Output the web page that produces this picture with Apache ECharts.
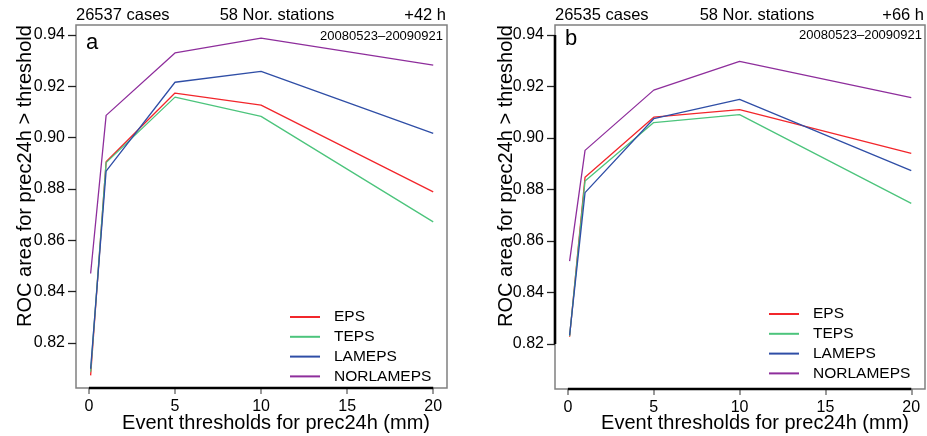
<!DOCTYPE html>
<html>
<head>
<meta charset="utf-8">
<script src="https://cdn.jsdelivr.net/npm/echarts@6/dist/echarts.min.js"></script>
<style>
html,body{margin:0;padding:0;background:#fff;}
#c{width:927px;height:436px;}
</style>
</head>
<body>
<div id="c"></div>
<script>
// ---- data ----
const thresholds = [0.1, 1, 5, 10, 20];
const xTickValues = [0, 5, 10, 15, 20];
const yTickValues = [0.82, 0.84, 0.86, 0.88, 0.90, 0.92, 0.94];
const seriesNames = ['EPS', 'TEPS', 'LAMEPS', 'NORLAMEPS'];
// panel a (+42 h)
const epsA = [0.8074, 0.8906, 0.9174, 0.9127, 0.8789];
const tepsA = [0.8088, 0.8903, 0.9158, 0.9083, 0.8672];
const lamepsA = [0.8100, 0.8870, 0.9216, 0.9258, 0.9017];
const norlamepsA = [0.8471, 0.9087, 0.9330, 0.9388, 0.9283];
// panel b (+66 h)
const epsB = [0.8228, 0.8848, 0.9081, 0.9110, 0.8940];
const tepsB = [0.8231, 0.8833, 0.9060, 0.9091, 0.8746];
const lamepsB = [0.8234, 0.8788, 0.9075, 0.9150, 0.8873];
const norlamepsB = [0.8522, 0.8952, 0.9186, 0.9298, 0.9157];
const panelA = {letter: 'a', cases: '26537 cases', stations: '58 Nor. stations', lead: '+42 h', period: '20080523\u201320090921'};
const panelB = {letter: 'b', cases: '26535 cases', stations: '58 Nor. stations', lead: '+66 h', period: '20080523\u201320090921'};
const yTitle = 'ROC area for prec24h > threshold';
const xTitle = 'Event thresholds for prec24h (mm)';

// ---- styles ----
const colors = {EPS: '#f2262b', TEPS: '#4cc47c', LAMEPS: '#2f4ea6', NORLAMEPS: '#8e2e9c'};
const FONT = '"Liberation Sans", Arial, Helvetica, sans-serif';
const X_MIN = -0.75, X_MAX = 20.8, Y_MIN = 0.8025, Y_MAX = 0.9439;
const grids = [
  {left: 76, top: 25, width: 371, height: 363},
  {left: 555, top: 25, width: 370, height: 364}
];

function mkX(i) {
  return {
    type: 'value', gridIndex: i, min: X_MIN, max: X_MAX,
    axisLine: {show: false, onZero: false},
    splitLine: {show: false},
    axisTick: {show: true, inside: false, customValues: xTickValues, length: 6, lineStyle: {color: '#7a7a7a', width: 1.5}},
    axisLabel: {show: true, customValues: xTickValues, margin: 11, fontSize: 16, color: '#000', fontFamily: FONT,
      formatter: v => String(v)}
  };
}
function mkY(i) {
  return {
    type: 'value', gridIndex: i, min: Y_MIN, max: Y_MAX,
    axisLine: {show: false, onZero: false},
    splitLine: {show: false},
    axisTick: {show: true, inside: false, customValues: yTickValues, length: 8, lineStyle: {color: '#222', width: 1.3}},
    axisLabel: {show: true, customValues: yTickValues, margin: 11, fontSize: 16, color: '#000', fontFamily: FONT,
      formatter: v => v.toFixed(2)}
  };
}
const dataA = [epsA, tepsA, lamepsA, norlamepsA];
const dataB = [epsB, tepsB, lamepsB, norlamepsB];
const series = [];
[dataA, dataB].forEach((set, gi) => {
  set.forEach((arr, k) => {
    series.push({
      name: seriesNames[k], type: 'line', xAxisIndex: gi, yAxisIndex: gi,
      showSymbol: false, symbol: 'none',
      lineStyle: {color: colors[seriesNames[k]], width: 1.3},
      itemStyle: {color: colors[seriesNames[k]]},
      data: thresholds.map((t, i) => [t, arr[i]])
    });
  });
});
function mkLegend(left, top) {
  return {
    orient: 'vertical', left: left, top: top, padding: 0, icon: 'rect', itemWidth: 30, itemHeight: 2,
    itemGap: 3.8, selectedMode: false, data: seriesNames,
    textStyle: {fontSize: 15.5, fontFamily: FONT, color: '#000', lineHeight: 16, padding: [0, 0, 0, 9]}
  };
}
function txt(x, y, s, size, align, extra) {
  return Object.assign({type: 'text', x: x, y: y, silent: true,
    style: {text: s, fontSize: size, fontFamily: FONT, fill: '#000', textAlign: align, textVerticalAlign: 'middle'}}, extra || {});
}
const baseGraphics = [
  // panel a texts
  txt(76, 15, panelA.cases, 16.5, 'left'),
  txt(277, 15, panelA.stations, 16.5, 'center'),
  txt(446, 15, panelA.lead, 16.5, 'right'),
  txt(86, 43, panelA.letter, 22, 'left'),
  txt(443, 36, panelA.period, 13, 'right'),
  txt(25, 176, yTitle, 20, 'center', {rotation: Math.PI / 2}),
  txt(276, 423, xTitle, 20, 'center'),
  // panel b texts
  txt(555, 15, panelB.cases, 16.5, 'left'),
  txt(757, 15, panelB.stations, 16.5, 'center'),
  txt(924, 15, panelB.lead, 16.5, 'right'),
  txt(565, 39, panelB.letter, 22, 'left'),
  txt(922, 35, panelB.period, 13, 'right'),
  txt(506, 176, yTitle, 20, 'center', {rotation: Math.PI / 2}),
  txt(755, 423, xTitle, 20, 'center')
];

const chart = echarts.init(document.getElementById('c'), null, {renderer: 'canvas'});
chart.setOption({
  animation: false,
  backgroundColor: '#fff',
  grid: grids.map(g => Object.assign({show: true, borderColor: '#808080', borderWidth: 1.5, backgroundColor: 'transparent'}, g)),
  xAxis: [mkX(0), mkX(1)],
  yAxis: [mkY(0), mkY(1)],
  legend: [mkLegend(290, 309), mkLegend(769, 306)],
  series: series,
  graphic: baseGraphics
});

// black axis segments spanning the first to last tick (computed through the library's scales)
const axisGraphics = [];
[0, 1].forEach(gi => {
  const p0 = chart.convertToPixel({gridIndex: gi}, [xTickValues[0], Y_MIN]);
  const p1 = chart.convertToPixel({gridIndex: gi}, [xTickValues[xTickValues.length - 1], Y_MIN]);
  axisGraphics.push({type: 'line', silent: true, z: 10,
    shape: {x1: p0[0], y1: p0[1], x2: p1[0], y2: p1[1]}, style: {stroke: '#000', lineWidth: 2.6}});
});
{
  const q0 = chart.convertToPixel({gridIndex: 1}, [X_MIN, yTickValues[0]]);
  const q1 = chart.convertToPixel({gridIndex: 1}, [X_MIN, yTickValues[yTickValues.length - 1]]);
  axisGraphics.push({type: 'line', silent: true, z: 10,
    shape: {x1: q0[0], y1: q0[1], x2: q1[0], y2: q1[1]}, style: {stroke: '#000', lineWidth: 2.6}});
}
chart.setOption({graphic: baseGraphics.concat(axisGraphics)}, {replaceMerge: ['graphic']});
</script>
</body>
</html>
